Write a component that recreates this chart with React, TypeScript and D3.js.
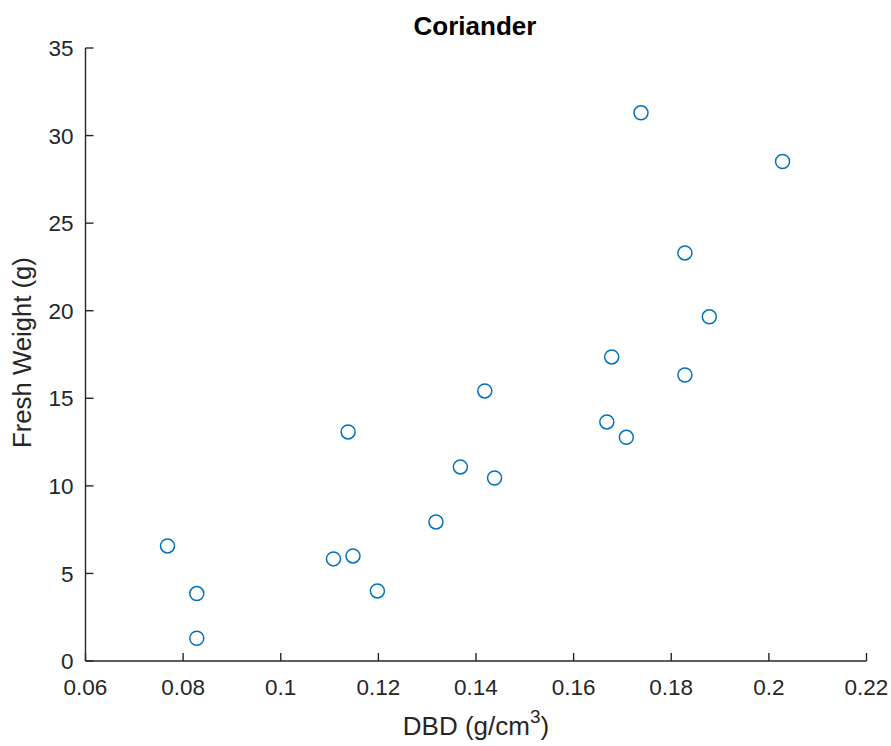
import React from "react";
import * as d3 from "d3";

const dbd = [0.0768, 0.0828, 0.0828, 0.1108, 0.1148, 0.1198, 0.1138, 0.1318, 0.1368, 0.1418, 0.1438, 0.1668, 0.1678, 0.1708, 0.1738, 0.1828, 0.1828, 0.1878, 0.2028];
const freshWeight = [6.57, 3.85, 1.3, 5.83, 6.0, 4.0, 13.08, 7.94, 11.08, 15.42, 10.45, 13.65, 17.36, 12.77, 31.3, 23.3, 16.33, 19.65, 28.52];
const xTicks = [0.06, 0.08, 0.1, 0.12, 0.14, 0.16, 0.18, 0.2, 0.22];
const xTickLabels = ["0.06", "0.08", "0.1", "0.12", "0.14", "0.16", "0.18", "0.2", "0.22"];
const yTicks = [0, 5, 10, 15, 20, 25, 30, 35];

const W = 891;
const H = 746;
const left = 85.5;
const right = 866.5;
const top = 48;
const bottom = 661;
const axisColor = "#262626";
const font = "Arial, 'Liberation Sans', Helvetica, sans-serif";

export default function App() {
  const x = d3.scaleLinear().domain([0.06, 0.22]).range([left, right]);
  const y = d3.scaleLinear().domain([0, 35]).range([bottom, top]);
  const tickLen = 8;
  return (
    <svg width={W} height={H} style={{ position: "absolute", left: 0, top: 0, background: "#fff" }} fontFamily={font}>
      <rect x={0} y={0} width={W} height={H} fill="#fff" />
      <line x1={left} y1={bottom} x2={right} y2={bottom} stroke={axisColor} strokeWidth={1.4} />
      <line x1={left} y1={bottom} x2={left} y2={top} stroke={axisColor} strokeWidth={1.4} />
      {xTicks.map((t, i) => (
        <g key={"xt" + i}>
          <line x1={x(t)} x2={x(t)} y1={bottom} y2={bottom - tickLen} stroke={axisColor} strokeWidth={1.4} />
          <text x={x(t)} y={695} textAnchor="middle" fontSize={22.5} fill={axisColor}>{xTickLabels[i]}</text>
        </g>
      ))}
      {yTicks.map((t, i) => (
        <g key={"yt" + i}>
          <line x1={left} x2={left + tickLen} y1={y(t)} y2={y(t)} stroke={axisColor} strokeWidth={1.4} />
          <text x={73.5} y={y(t)} dy="0.36em" textAnchor="end" fontSize={22.5} fill={axisColor}>{String(t)}</text>
        </g>
      ))}
      {dbd.map((d, i) => (
        <circle key={"p" + i} cx={x(d)} cy={y(freshWeight[i])} r={7} fill="none" stroke="#0072BD" strokeWidth={1.5} />
      ))}
      <text x={475} y={34.5} textAnchor="middle" fontSize={26} fontWeight="bold" fill="#000">Coriander</text>
      <text x={476} y={735} textAnchor="middle" fontSize={26} fill={axisColor}>
        DBD (g/cm<tspan fontSize={19} dy={-12}>3</tspan><tspan dy={12}>)</tspan>
      </text>
      <text transform={`translate(31,${352.5}) rotate(-90)`} textAnchor="middle" fontSize={25.7} fill={axisColor}>Fresh Weight (g)</text>
    </svg>
  );
}
